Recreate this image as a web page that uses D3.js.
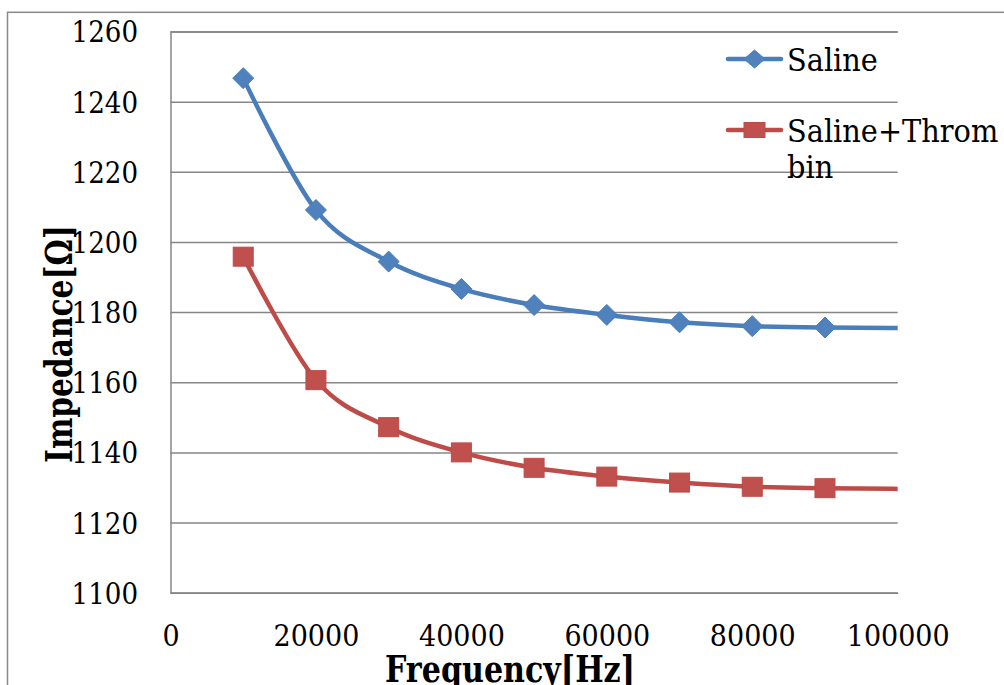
<!DOCTYPE html>
<meta charset="utf-8">
<style>
  body { margin: 0; background: #fff; }
  text { font-family: "DejaVu Serif", serif; fill: #000; }
  .grid line, .grid path, .xaxis path { stroke: #868686; stroke-width: 1.5px; }
</style>
<body>
<script src="https://cdn.jsdelivr.net/npm/d3@7"></script>
<script>

  // data (last point lies past the axis max and is clipped)
  var freq = [10000, 20000, 30000, 40000, 50000, 60000, 70000, 80000, 90000, 110000];
  var saline = [1246.7, 1209.1, 1194.4, 1186.6, 1182.0, 1179.2, 1177.1, 1176.0, 1175.6, 1175.3];
  var thrombin = [1195.8, 1160.6, 1147.2, 1140.0, 1135.6, 1133.1, 1131.4, 1130.2, 1129.8, 1129.4];
  var seriesNames = ["Saline", "Saline+Throm|bin"];
  var xTicks = [0, 20000, 40000, 60000, 80000, 100000];
  var yTicks = [1100, 1120, 1140, 1160, 1180, 1200, 1220, 1240, 1260];

  var W = 1004, H = 685;
  var margin = { top: 31.5, left: 170.5 },
    width = 727.2,
    height = 561.2;

  var x = d3.scaleLinear().domain([0, 100000]).range([0, width]);
  var y = d3.scaleLinear().domain([1100, 1260]).range([height, 0]);

  var svg = d3.select("body").append("svg")
    .attr("width", W)
    .attr("height", H);

  // outer chart frame
  svg.append("rect")
    .attr("x", 7.5).attr("y", 12.3)
    .attr("width", W + 20).attr("height", H + 20)
    .attr("fill", "none")
    .attr("stroke", "#898989")
    .attr("stroke-width", 1.5);

  var g = svg.append("g")
    .attr("transform", "translate(" + margin.left + "," + margin.top + ")");

  function squeeze(sel, k) {
    sel.each(function () {
      var w = this.getComputedTextLength();
      d3.select(this).attr("textLength", w * k).attr("lengthAdjust", "spacingAndGlyphs");
    });
  }

  // y axis + horizontal gridlines
  var yAxis = g.append("g")
    .attr("class", "grid")
    .call(d3.axisLeft(y).tickValues(yTicks).tickSize(-width).tickPadding(32.5).tickFormat(d3.format("d")));
  yAxis.selectAll("text")
    .style("font-size", "29px")
    .attr("dy", "0.36em");
  squeeze(yAxis.selectAll("text"), 0.9);

  // x axis
  var xAxis = g.append("g")
    .attr("class", "xaxis")
    .attr("transform", "translate(0," + height + ")")
    .call(d3.axisBottom(x).tickValues(xTicks).tickSize(0).tickFormat(d3.format("d")));
  xAxis.selectAll("text")
    .style("font-size", "29px")
    .attr("y", 53.5)
    .attr("dy", 0);
  squeeze(xAxis.selectAll("text"), 0.93);

  g.append("clipPath").attr("id", "plotclip")
    .append("rect").attr("width", width).attr("height", height);

  var series = [
    { name: seriesNames[0], values: saline, color: "#4A7EBB", fill: "#4F81BD", shape: "diamond" },
    { name: seriesNames[1], values: thrombin, color: "#BE4B48", fill: "#C0504D", shape: "square" }
  ];

  var line = d3.line()
    .x(function (d) { return x(d[0]); })
    .y(function (d) { return y(d[1]); })
    .curve(d3.curveCardinal.tension(0));

  function marker(sel, s, cx, cy, sw, sh) {
    if (s.shape === "diamond") {
      sel.append("path")
        .attr("d", "M" + cx + "," + (cy - sh / 2) + "L" + (cx + sw / 2) + "," + cy +
          "L" + cx + "," + (cy + sh / 2) + "L" + (cx - sw / 2) + "," + cy + "Z")
        .attr("fill", s.fill).attr("stroke", s.color).attr("stroke-width", 1);
    } else {
      sel.append("rect")
        .attr("x", cx - sw / 2).attr("y", cy - sh / 2)
        .attr("width", sw).attr("height", sh)
        .attr("fill", s.fill).attr("stroke", s.color).attr("stroke-width", 1);
    }
  }

  series.forEach(function (s) {
    var pts = freq.map(function (f, i) { return [f, s.values[i]]; });
    g.append("path")
      .attr("d", line(pts))
      .attr("clip-path", "url(#plotclip)")
      .attr("fill", "none")
      .attr("stroke", s.color)
      .attr("stroke-width", 4.5)
      .attr("stroke-linecap", "round");
    pts.filter(function (p) { return p[0] <= 100000; }).forEach(function (p) {
      marker(g, s, x(p[0]), y(p[1]), s.shape === "diamond" ? 21 : 20, s.shape === "diamond" ? 21 : 19);
    });
  });

  // legend
  var leg = svg.append("g");
  var legRows = [59, 130];
  series.forEach(function (s, i) {
    var ly = legRows[i];
    leg.append("line")
      .attr("x1", 728).attr("x2", 781).attr("y1", ly).attr("y2", ly)
      .attr("stroke", s.color).attr("stroke-width", 4.5).attr("stroke-linecap", "round");
    marker(leg, s, 754.5, ly, 21, s.shape === "diamond" ? 18 : 15);
    var parts = s.name.split("|");
    var t = leg.append("text")
      .attr("x", 787).attr("y", ly + 11.5)
      .style("font-size", "32px");
    parts.forEach(function (p, j) {
      var ts = t.append("tspan").attr("x", 787).attr("dy", j === 0 ? 0 : 36.6).text(p);
    });
    t.selectAll("tspan").each(function () {
      var w = this.getComputedTextLength();
      d3.select(this).attr("textLength", w * 0.9).attr("lengthAdjust", "spacingAndGlyphs");
    });
  });

  // axis titles
  svg.append("text")
    .attr("x", 510).attr("y", 682)
    .attr("text-anchor", "middle")
    .style("font-size", "37px").style("font-weight", "bold")
    .attr("textLength", 250).attr("lengthAdjust", "spacingAndGlyphs")
    .text("Frequency[Hz]");

  svg.append("text")
    .attr("transform", "translate(72,344) rotate(-90)")
    .attr("text-anchor", "middle")
    .style("font-size", "38px").style("font-weight", "bold")
    .attr("textLength", 238).attr("lengthAdjust", "spacingAndGlyphs")
    .text("Impedance[Ω]");

</script>
</body>
